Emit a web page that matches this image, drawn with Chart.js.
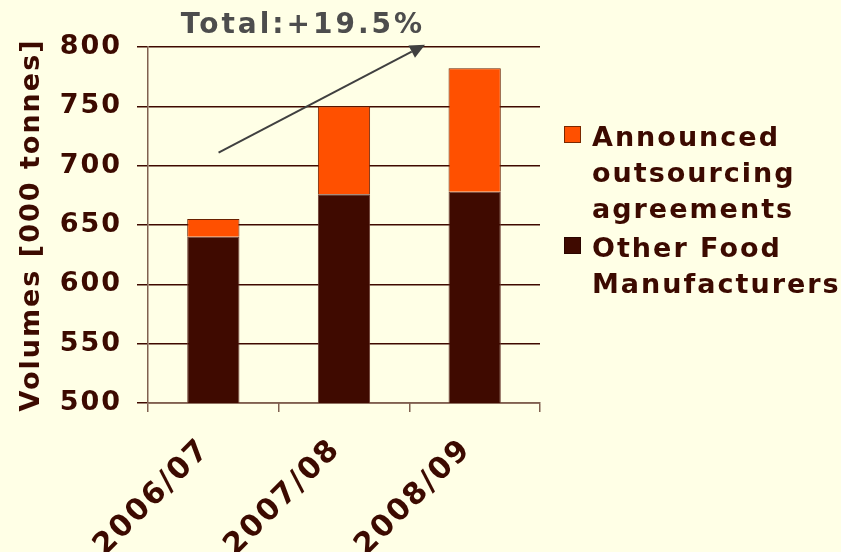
<!DOCTYPE html>
<html>
<head>
<meta charset="utf-8">
<script src="https://cdn.jsdelivr.net/npm/chart.js@4"></script>
<style>
html,body{margin:0;padding:0;background:#ffffe6;}
#wrap{position:relative;width:841px;height:552px;}
</style>
</head>
<body>
<div id="wrap"><canvas id="c" width="841" height="552"></canvas></div>
<script>
const categories = ['2006/07', '2007/08', '2008/09'];
const otherFood = [640, 676, 678];
const announced = [15, 74, 104];
const seriesNames = [['Announced', 'outsourcing', 'agreements'], ['Other Food', 'Manufacturers']];
const yTicks = [500, 550, 600, 650, 700, 750, 800];
const titleText = 'Total:+19.5%';
const axisTitle = 'Volumes [000 tonnes]';
// arrow annotation, in data coordinates (category index, value)
const arrowFrom = [0.04, 711];
const arrowTo = [1.62, 802];

const TEXT = '#3c0a00';
const ORANGE = '#ff5000';
const DARK = '#3f0a00';
const FONT = "'DejaVu Sans', Verdana, sans-serif";
const SPACING = '2px';

function setSpacing(chart) {
  try { chart.ctx.letterSpacing = SPACING; } catch (e) {}
}

const bgPlugin = {
  id: 'bg',
  beforeInit: setSpacing,
  beforeLayout: setSpacing,
  beforeDraw(chart) {
    setSpacing(chart);
    const ctx = chart.ctx;
    ctx.save();
    ctx.fillStyle = '#ffffe6';
    ctx.fillRect(0, 0, chart.width, chart.height);
    ctx.restore();
  }
};

const extrasPlugin = {
  id: 'extras',
  afterDraw(chart) {
    const ctx = chart.ctx;
    const xs = chart.scales.x, ys = chart.scales.y;
    // arrow
    const x1 = xs.getPixelForValue(arrowFrom[0]), y1 = ys.getPixelForValue(arrowFrom[1]);
    const x2 = xs.getPixelForValue(arrowTo[0]), y2 = ys.getPixelForValue(arrowTo[1]);
    const ang = Math.atan2(y2 - y1, x2 - x1);
    const hl = 15, hw = 7;
    const bx = x2 - hl * Math.cos(ang), by = y2 - hl * Math.sin(ang);
    ctx.save();
    ctx.strokeStyle = '#404040';
    ctx.fillStyle = '#404040';
    ctx.lineWidth = 2;
    ctx.beginPath();
    ctx.moveTo(x1, y1);
    ctx.lineTo(bx, by);
    ctx.stroke();
    ctx.beginPath();
    ctx.moveTo(x2, y2);
    ctx.lineTo(bx + hw * Math.sin(ang), by - hw * Math.cos(ang));
    ctx.lineTo(bx - hw * Math.sin(ang), by + hw * Math.cos(ang));
    ctx.closePath();
    ctx.fill();
    ctx.restore();

    // title
    ctx.save();
    ctx.fillStyle = '#4d4d4d';
    ctx.font = "bold 28px " + FONT;
    try { ctx.letterSpacing = '3px'; } catch (e) {}
    ctx.textAlign = 'center';
    ctx.textBaseline = 'alphabetic';
    ctx.fillText(titleText, 303, 33);
    ctx.restore();

    // legend
    ctx.save();
    const colors = [ORANGE, DARK];
    const borders = ['#7a2800', '#2a0500'];
    const starts = [146, 257];
    const lh = 36;
    ctx.font = "bold 27px " + FONT;
    try { ctx.letterSpacing = SPACING; } catch (e) {}
    ctx.textAlign = 'left';
    ctx.textBaseline = 'alphabetic';
    seriesNames.forEach((lines, i) => {
      const base = starts[i];
      ctx.fillStyle = colors[i];
      ctx.fillRect(564, base - 20, 17, 17);
      ctx.strokeStyle = borders[i];
      ctx.lineWidth = 1;
      ctx.strokeRect(564.5, base - 19.5, 16, 16);
      ctx.fillStyle = TEXT;
      lines.forEach((t, j) => ctx.fillText(t, 592, base + j * lh));
    });
    ctx.restore();
  }
};

new Chart(document.getElementById('c'), {
  type: 'bar',
  data: {
    labels: categories,
    datasets: [
      { label: 'Other Food Manufacturers', data: otherFood, backgroundColor: DARK, borderColor: '#6a3a30', borderWidth: 1, barPercentage: 0.8, categoryPercentage: 0.5 },
      { label: 'Announced outsourcing agreements', data: announced, backgroundColor: ORANGE, borderColor: '#6a2000', borderWidth: 1, barPercentage: 0.8, categoryPercentage: 0.5 }
    ]
  },
  options: {
    responsive: false,
    animation: false,
    layout: { padding: { top: 47, right: 301, left: 0, bottom: 0 } },
    plugins: { legend: { display: false }, tooltip: { enabled: false }, title: { display: false } },
    scales: {
      x: {
        stacked: true,
        afterFit(s) { s.height = 149; },
        border: { color: '#806050', width: 1.5 },
        grid: { drawOnChartArea: false, tickLength: 9, color: '#806050', lineWidth: 1.5 },
        ticks: { color: TEXT, font: { family: FONT, size: 30, weight: 'bold' }, minRotation: 45, maxRotation: 45, padding: 20, labelOffset: -8, autoSkip: false }
      },
      y: {
        stacked: true,
        min: 500, max: 800,
        afterFit(s) { s.width = 148; },
        afterBuildTicks(s) { s.ticks = yTicks.map(v => ({ value: v })); },
        border: { color: '#806050', width: 1.5 },
        grid: { color: DARK, lineWidth: 1.5, tickLength: 11 },
        ticks: { color: TEXT, font: { family: FONT, size: 27, weight: 'bold' }, padding: 15 },
        title: { display: true, text: axisTitle, color: TEXT, font: { family: FONT, size: 27, weight: 'bold' }, padding: { top: 16, bottom: 0 } }
      }
    }
  },
  plugins: [bgPlugin, extrasPlugin]
});
</script>
</body>
</html>
